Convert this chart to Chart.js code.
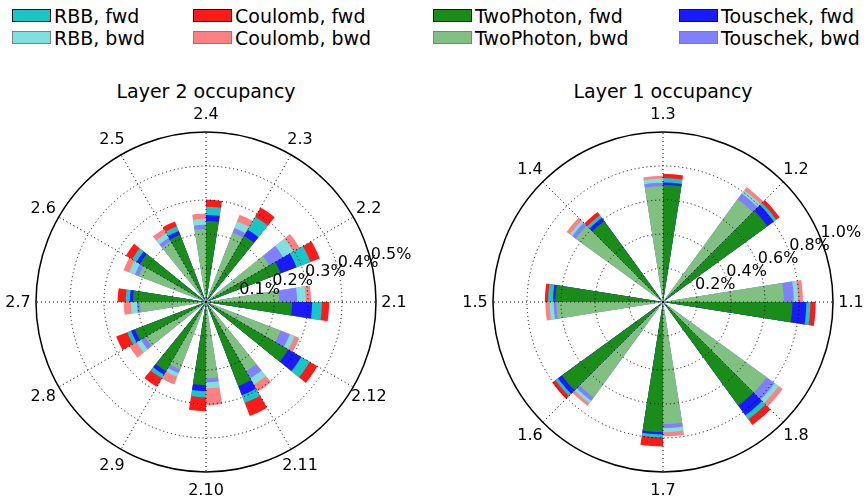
<!DOCTYPE html>
<html><head><meta charset="utf-8">
<script src="https://cdn.jsdelivr.net/npm/chart.js@4.4.0/dist/chart.umd.min.js"></script>
<style>
html,body{margin:0;padding:0;background:#fff;}
body{width:867px;height:502px;position:relative;overflow:hidden;font-family:"DejaVu Sans",sans-serif;color:#000;}
.lg{position:absolute;height:13px;width:39px;box-sizing:border-box;border:1px solid #1a1a1a;}
.lt{position:absolute;font-size:19px;line-height:22px;white-space:nowrap;}
.title{position:absolute;font-size:19px;line-height:22px;white-space:nowrap;transform:translateX(-50%);top:80px;}
canvas{position:absolute;top:0;}
</style></head><body>
<div id="legend"></div>
<div class="title" style="left:206px">Layer 2 occupancy</div>
<div class="title" style="left:663px">Layer 1 occupancy</div>
<canvas id="c2" width="433" height="502" style="left:0px"></canvas>
<canvas id="c1" width="433" height="502" style="left:434px"></canvas>
<script>
// ---------- data (occupancy in %) ----------
const layer2Ladders = ['2.1','2.2','2.3','2.4','2.5','2.6','2.7','2.8','2.9','2.10','2.11','2.12'];
const layer2TwoPhotonFwd = [0.253,0.235,0.224,0.238,0.212,0.224,0.215,0.224,0.235,0.244,0.265,0.279];
const layer2TwoPhotonBwd = [0.215,0.215,0.218,0.215,0.206,0.212,0.194,0.206,0.212,0.224,0.235,0.235];
const layer2TouschekFwd  = [0.059,0.050,0.021,0.018,0.012,0.012,0.009,0.012,0.012,0.018,0.029,0.044];
const layer2TouschekBwd  = [0.053,0.047,0.015,0.012,0.012,0.012,0.009,0.015,0.012,0.012,0.024,0.029];
const layer2RBBFwd       = [0.029,0.044,0.044,0.024,0.015,0.015,0.012,0.012,0.012,0.018,0.024,0.029];
const layer2RBBBwd       = [0.026,0.035,0.021,0.018,0.015,0.018,0.018,0.015,0.012,0.018,0.021,0.015];
const layer2CoulombFwd   = [0.021,0.029,0.032,0.021,0.015,0.021,0.024,0.035,0.029,0.041,0.041,0.026];
const layer2CoulombBwd   = [0.015,0.021,0.021,0.015,0.015,0.018,0.021,0.024,0.024,0.050,0.024,0.015];

const layer1Ladders = ['1.1','1.2','1.3','1.4','1.5','1.6','1.7','1.8'];
const layer1TwoPhotonFwd = [0.761,0.759,0.689,0.588,0.633,0.735,0.765,0.753];
const layer1TwoPhotonBwd = [0.710,0.747,0.682,0.635,0.627,0.694,0.718,0.753];
const layer1TouschekFwd  = [0.082,0.047,0.014,0.024,0.014,0.029,0.014,0.071];
const layer1TouschekBwd  = [0.059,0.041,0.020,0.024,0.016,0.024,0.024,0.059];
const layer1RBBFwd       = [0.024,0.018,0.026,0.018,0.029,0.018,0.018,0.029];
const layer1RBBBwd       = [0.025,0.024,0.024,0.018,0.024,0.018,0.024,0.029];
const layer1CoulombFwd   = [0.031,0.024,0.025,0.024,0.019,0.024,0.053,0.041];
const layer1CoulombBwd   = [0.029,0.024,0.016,0.024,0.025,0.018,0.024,0.029];

const layer2Ticks = {max: 0.5, step: 0.1};
const layer1Ticks = {max: 1.0, step: 0.2};

// ---------- styles ----------
const colors = {
  RBB:       {fwd: '#1ac5c5', bwd: '#80dfdf'},
  Coulomb:   {fwd: '#ff1a1a', bwd: '#ff8080'},
  TwoPhoton: {fwd: '#1a8c1a', bwd: '#80c080'},
  Touschek:  {fwd: '#1a1aff', bwd: '#8080ff'}
};
const legendOrder = ['RBB','Coulomb','TwoPhoton','Touschek'];
const legendBoxX = [12, 193, 433, 679];
const WEDGE = 9; // wedge angular width, degrees

// ---------- legend (HTML) ----------
(function(){
  const lg = document.getElementById('legend');
  legendOrder.forEach((name, c) => {
    ['fwd','bwd'].forEach((dir, r) => {
      const b = document.createElement('div');
      b.className = 'lg';
      b.style.left = legendBoxX[c] + 'px';
      b.style.top = (r === 0 ? 9 : 31) + 'px';
      b.style.background = colors[name][dir];
      if (dir === 'bwd') b.style.borderColor = '#808080';
      lg.appendChild(b);
      const t = document.createElement('div');
      t.className = 'lt';
      t.textContent = name + ', ' + dir;
      t.style.left = (legendBoxX[c] + 42) + 'px';
      t.style.top = (r === 0 ? 5 : 27) + 'px';
      lg.appendChild(t);
    });
  });
})();

const polarText = {
  id: 'polarText',
  afterDraw(chart, args, opts) {
    const s = chart.scales.r, ctx = chart.ctx;
    ctx.save();
    ctx.fillStyle = '#000';
    ctx.font = '16px "DejaVu Sans"';
    ctx.textAlign = 'center';
    ctx.textBaseline = 'middle';
    chart.data.labels.forEach((lab, i) => {
      const p = s.getPointPosition(i, s.drawingArea + opts.labelGap);
      ctx.fillText(lab, p.x, p.y + 1);
    });
    const a = opts.tickAngle * Math.PI / 180;
    ctx.textAlign = 'left';
    ctx.textBaseline = 'alphabetic';
    s.ticks.forEach(t => {
      if (t.value <= s.min) return;
      const r = s.getDistanceFromCenterForValue(t.value);
      ctx.fillText(t.label, s.xCenter + r * Math.cos(a) + 0.5, s.yCenter - r * Math.sin(a) + 0.5);
    });
    ctx.restore();
  }
};

function makePolar(canvasId, ladders, stack, ticks, pad, tickAngle) {
  const n = ladders.length;
  const slot = 360 / n;
  const cw = [];
  for (let j = 0; j < n; j++) cw.push((n - j) % n); // clockwise from east
  const elems = [];
  for (let j = 0; j < n; j++) {
    elems.push({k: cw[j], dir: 'fwd', angle: WEDGE});
    elems.push({k: -1, dir: null, angle: slot - 2 * WEDGE});
    elems.push({k: cw[(j + 1) % n], dir: 'bwd', angle: WEDGE});
  }
  const datasets = stack.map((layer, L) => ({
    data: elems.map(e => {
      if (e.k < 0) return 0;
      let s = 0;
      for (let m = 0; m <= L; m++) s += stack[m][e.dir][e.k];
      return s;
    }),
    backgroundColor: elems.map(e => e.k < 0 ? 'rgba(0,0,0,0)' : colors[layer.name][e.dir]),
    borderWidth: 0,
    angle: c => elems[c.dataIndex].angle,
    order: L
  }));
  const isOuter = c => c.tick && Math.abs(c.tick.value - ticks.max) < 1e-9;
  return new Chart(document.getElementById(canvasId), {
    type: 'polarArea',
    data: {labels: cw.map(k => ladders[k]), datasets},
    options: {
      responsive: false,
      animation: false,
      devicePixelRatio: 1,
      layout: {padding: pad},
      plugins: {legend: {display: false}, tooltip: {enabled: false},
                polarText: {labelGap: 18, tickAngle: tickAngle}},
      scales: {
        r: {
          startAngle: 90,
          min: 0, max: ticks.max,
          ticks: {display: false, stepSize: ticks.step, callback: v => v.toFixed(1) + '%'},
          grid: {circular: true, z: 1, color: '#000', lineWidth: c => isOuter(c) ? 1.5 : 1},
          border: {dash: c => isOuter(c) ? [] : [1, 3]},
          angleLines: {display: true, color: '#000', lineWidth: 1, borderDash: [1, 3]},
          pointLabels: {display: false}
        }
      }
    },
    plugins: [polarText]
  });
}

makePolar('c2', layer2Ladders, [
  {name: 'TwoPhoton', fwd: layer2TwoPhotonFwd, bwd: layer2TwoPhotonBwd},
  {name: 'Touschek',  fwd: layer2TouschekFwd,  bwd: layer2TouschekBwd},
  {name: 'RBB',       fwd: layer2RBBFwd,       bwd: layer2RBBBwd},
  {name: 'Coulomb',   fwd: layer2CoulombFwd,   bwd: layer2CoulombBwd}
], layer2Ticks, {left: 36, right: 57, top: 132, bottom: 30}, 15);

makePolar('c1', layer1Ladders, [
  {name: 'TwoPhoton', fwd: layer1TwoPhotonFwd, bwd: layer1TwoPhotonBwd},
  {name: 'Touschek',  fwd: layer1TouschekFwd,  bwd: layer1TouschekBwd},
  {name: 'RBB',       fwd: layer1RBBFwd,       bwd: layer1RBBBwd},
  {name: 'Coulomb',   fwd: layer1CoulombFwd,   bwd: layer1CoulombBwd}
], layer1Ticks, {left: 59, right: 34, top: 132, bottom: 30}, 22.5);
</script>
</body></html>
